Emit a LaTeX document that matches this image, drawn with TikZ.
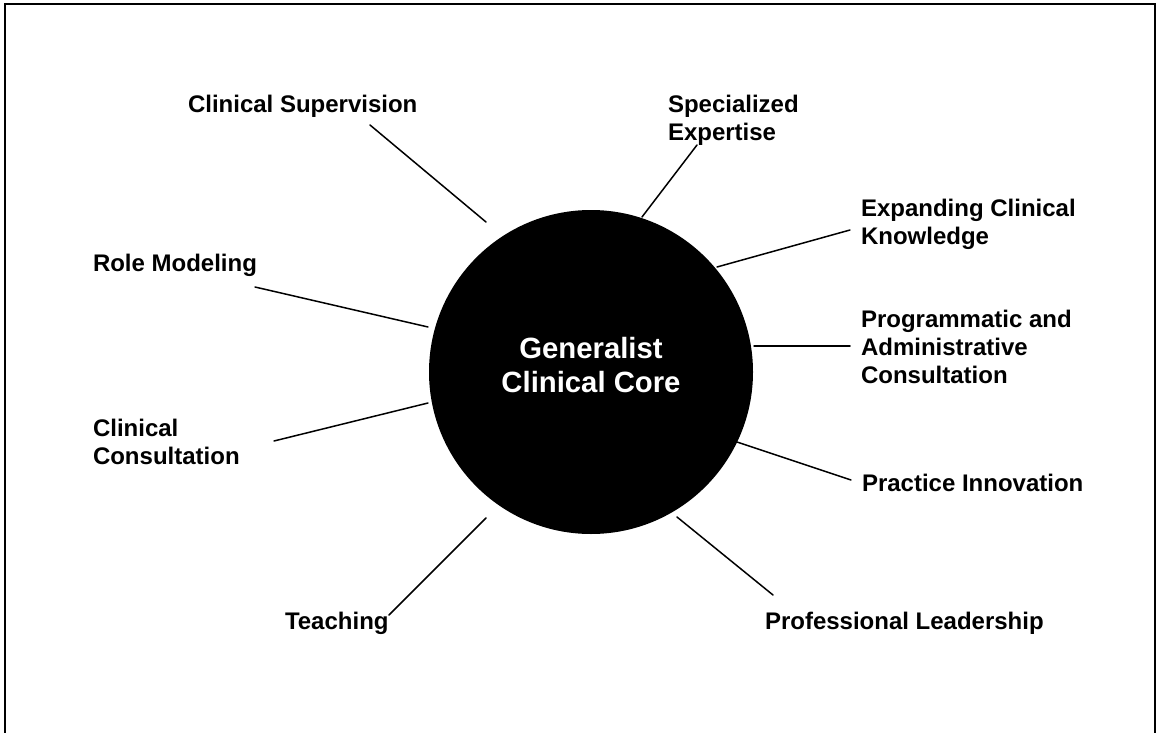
\documentclass[tikz,border=0pt]{standalone}
\usepackage{fontspec}
\setmainfont{Liberation Sans}
\begin{document}
\begin{tikzpicture}[x=1pt,y=-1pt,
  lab/.style={anchor=north west,inner sep=0pt,outer sep=0pt,align=left,
    font=\fontsize{24}{27.6}\selectfont\bfseries},
  spoke/.style={line width=1.5pt,line cap=round},
  frame/.style={line width=1.6pt}]
\useasboundingbox (0,0) rectangle (1157,733);
\draw[frame] (5,740) -- (5,4) -- (1155,4) -- (1155,740);
\node[circle,fill=black,minimum size=324pt,inner sep=0pt] (core) at (591,372) {};
\node[anchor=north,inner sep=0pt,align=center,text=white,
  font=\fontsize{29.3}{34}\selectfont\bfseries] (coretext) at (591,337) {Generalist\\Clinical Core};
\node[lab] (sup) at (188,95.5) {Clinical Supervision};
\node[lab] (spec) at (668,95.5) {Specialized\\Expertise};
\node[lab] (exp) at (861,199.5) {Expanding Clinical\\Knowledge};
\node[lab] (prog) at (861,310.5) {Programmatic and\\Administrative\\Consultation};
\node[lab] (prac) at (862,474.5) {Practice Innovation};
\node[lab] (lead) at (765,612.5) {Professional Leadership};
\node[lab] (teach) at (285,612.5) {Teaching};
\node[lab] (cons) at (93,419.5) {Clinical\\Consultation};
\node[lab] (role) at (93,254.5) {Role Modeling};
\coordinate (supA) at (370,125); \coordinate (supB) at (486,222);
\coordinate (roleA) at (255,287); \coordinate (roleB) at (428,327);
\coordinate (specA) at (697,145); \coordinate (specB) at (642,217);
\coordinate (expA) at (850,230); \coordinate (expB) at (717,267);
\coordinate (progA) at (850,346); \coordinate (progB) at (754,346);
\coordinate (pracA) at (851,480); \coordinate (pracB) at (737,442);
\coordinate (leadA) at (773,595); \coordinate (leadB) at (677,517);
\coordinate (consA) at (274,441); \coordinate (consB) at (428,403);
\coordinate (teachA) at (389,615); \coordinate (teachB) at (486,518);
\draw[spoke] (supA) -- (supB);
\draw[spoke] (roleA) -- (roleB);
\draw[spoke] (specA) -- (specB);
\draw[spoke] (expA) -- (expB);
\draw[spoke] (progA) -- (progB);
\draw[spoke] (pracA) -- (pracB);
\draw[spoke] (leadA) -- (leadB);
\draw[spoke] (consA) -- (consB);
\draw[spoke] (teachA) -- (teachB);
\end{tikzpicture}
\end{document}
